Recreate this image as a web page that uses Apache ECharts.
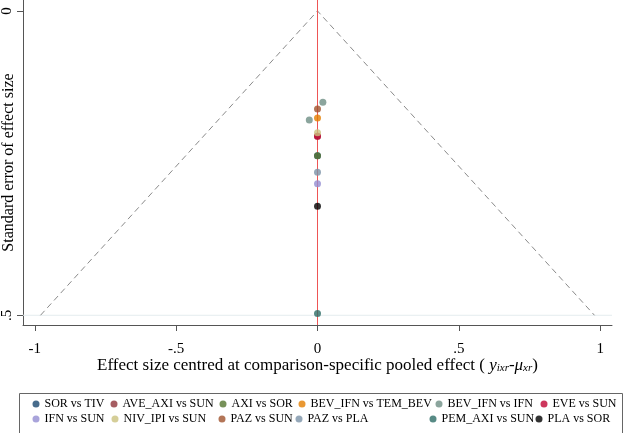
<!DOCTYPE html>
<html><head><meta charset="utf-8">
<script src="https://cdn.jsdelivr.net/npm/echarts@6/dist/echarts.min.js"></script>
<style>html,body{margin:0;padding:0;background:#fff}#c{width:625px;height:433px}</style>
</head><body><div id="c"></div>
<script>
// ---- data ----
const comparisons = ['SOR vs TIV','AVE_AXI vs SUN','AXI vs SOR','BEV_IFN vs TEM_BEV','BEV_IFN vs IFN','EVE vs SUN',
  'IFN vs SUN','NIV_IPI vs SUN','PAZ vs SUN','PAZ vs PLA','PEM_AXI vs SUN','PLA vs SOR'];
// study points: comparison index, centred effect, standard error
const pointComparison = [0, 1, 2, 3, 4, 4, 5, 6, 7, 8, 9, 10, 11];
const pointEffect     = [0, 0, 0, 0, 0.019, -0.029, 0, 0, 0, 0, 0, 0, 0];
const pointSE         = [0.238, 0.206, 0.238, 0.176, 0.150, 0.179, 0.206, 0.284, 0.200, 0.161, 0.265, 0.497, 0.321];
// pseudo confidence funnel
const funnelX = [-0.98, 0, 0.98];
const funnelY = [0.5, 0, 0.5];
const xTicks = [-1, -0.5, 0, 0.5, 1];
const yTicks = [0, 0.5];
const zeroLine = 0;      // reference line of no difference
const gridLineSE = 0.5;  // light horizontal reference line

// ---- styles / layout ----
const colors = ['#1a476f','#90353b','#55752f','#e37e00','#6e8e84','#c10534','#938dd2','#cac27e','#a0522d','#7b92a8','#2d6d66','#000000'];
const legendX = [36,114,223,302,439,544, 36,115,222,299,433,539];
const legendY = [404,404,404,404,404,404, 419,419,419,419,419,419];
const FONT = 'Liberation Serif';
const RED = '#ee5555';
const Y_MIN = -0.018, Y_MAX = 0.516, X_MIN = -1.042, X_MAX = 1.042;

function fmt(v){ if(v===0) return '0'; const s=String(Math.abs(v)).replace(/^0/,''); return (v<0?'-':'')+s; }

const scatterSeries = comparisons.map((name,ci)=>({
  name, type:'scatter', symbol:'circle', symbolSize:7, z:5,
  itemStyle:{color:colors[ci]},
  data: pointComparison.map((c,k)=>c===ci?[pointEffect[k],pointSE[k]]:null).filter(d=>d)
}));

const chart = echarts.init(document.getElementById('c'), null, {renderer:'canvas'});
chart.setOption({
  animation:false,
  backgroundColor:'#fff',
  grid:{left:23, right:13, top:0, bottom:108, containLabel:false, outerBoundsMode:'none'},
  xAxis:{type:'value', min:X_MIN, max:X_MAX,
    axisLine:{show:true, onZero:false, lineStyle:{color:'#555', width:1}},
    axisTick:{show:true, length:6, customValues:xTicks, lineStyle:{color:'#555'}},
    axisLabel:{customValues:xTicks, formatter:fmt, margin:17, fontFamily:FONT, fontSize:15, color:'#000'},
    splitLine:{show:false},
    name:'Effect size centred at comparison-specific pooled effect ( {i|y}{s|ixr}{i|-μ}{s|xr})',
    nameLocation:'middle', nameGap:32, nameMoveOverlap:false,
    nameTextStyle:{fontFamily:FONT, fontSize:17, color:'#000',
      rich:{i:{fontFamily:FONT, fontStyle:'italic', fontSize:17, color:'#000'},
            s:{fontFamily:FONT, fontStyle:'italic', fontSize:11, color:'#000', verticalAlign:'bottom', lineHeight:11}}}
  },
  yAxis:{type:'value', inverse:true, min:Y_MIN, max:Y_MAX,
    axisLine:{show:true, onZero:false, lineStyle:{color:'#555', width:1}},
    axisTick:{show:true, length:6, customValues:yTicks, lineStyle:{color:'#555'}},
    axisLabel:{customValues:yTicks, formatter:fmt, rotate:90, margin:8, fontFamily:FONT, fontSize:15, color:'#000'},
    splitLine:{show:false},
    name:'Standard error of effect size', nameLocation:'middle', nameGap:6, nameMoveOverlap:false,
    nameTextStyle:{fontFamily:FONT, fontSize:16, color:'#000'}
  },
  legend: comparisons.map((name,i)=>({
    data:[name], left:legendX[i]-3.5, top:legendY[i]-7, padding:0, itemGap:0,
    itemWidth:7, itemHeight:7, icon:'circle', selectedMode:false,
    textStyle:{fontFamily:FONT, fontSize:12, color:'#000', lineHeight:14}
  })),
  graphic:[{type:'rect', left:17, top:391, silent:true,
    shape:{width:603, height:40}, style:{fill:'none', stroke:'#666', lineWidth:1}}],
  series:[
    {type:'line', name:'grid5', data:[[X_MIN,gridLineSE],[X_MAX,gridLineSE]], symbol:'none', z:1, silent:true,
     lineStyle:{color:'#e4ecee', width:1, type:'solid'}},
    {type:'line', name:'funnel', data:funnelX.map((x,k)=>[x,funnelY[k]]), symbol:'none', z:2,
     lineStyle:{color:'#8a8a8a', width:1, type:[6,4]}, silent:true},
    {type:'line', name:'zero', data:[[zeroLine,Y_MIN],[zeroLine,Y_MAX]], symbol:'none', z:3, silent:true,
     itemStyle:{color:RED}, lineStyle:{color:RED, width:1, type:'solid'}},
    ...scatterSeries
  ]
});
</script></body></html>
